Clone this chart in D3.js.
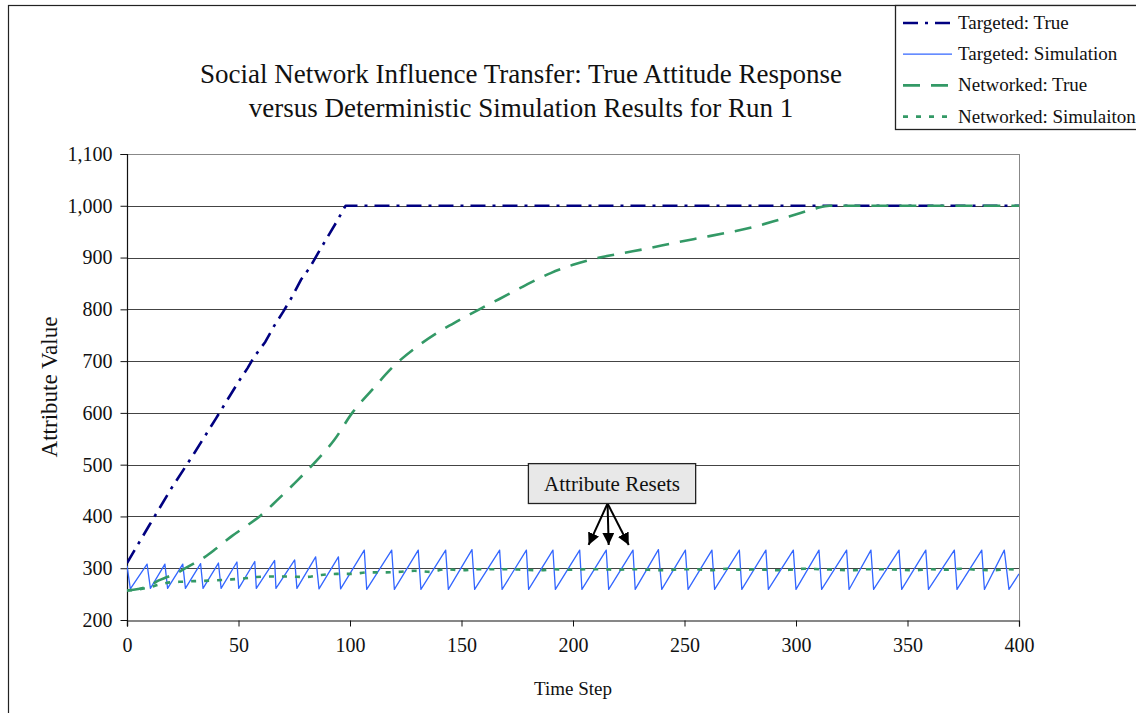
<!DOCTYPE html>
<html>
<head>
<meta charset="utf-8">
<script src="https://cdn.jsdelivr.net/npm/d3@7"></script>
<style>
  html, body { margin: 0; padding: 0; background: #fff; }
  svg { display: block; }
  text { font-family: "Liberation Serif", serif; }
</style>
</head>
<body>
<svg id="chart" width="1136" height="713" font-family="Liberation Serif, serif"></svg>
<script>
// ---------------- DATA ----------------
const titleLines = [
  "Social Network Influence Transfer: True Attitude Response",
  "versus Deterministic Simulation Results for Run 1"
];
const xLabel = "Time Step";
const yLabel = "Attribute Value";
const xTicks = [0, 50, 100, 150, 200, 250, 300, 350, 400];
const yTicks = [200, 300, 400, 500, 600, 700, 800, 900, 1000, 1100];
const seriesNames = ["Targeted: True", "Targeted: Simulation", "Networked: True", "Networked: Simulaiton"];
const annotationText = "Attribute Resets";
const annotationTargets = [207, 216, 225];

// Targeted: True  [time, value]
const targetedTrue = [
  [0,310],[10,383],[20,455],[30,521],[40,590],[50,660],[54,686],[57,708],[62,737],[66,768],
  [70,795],[74,824],[78,857],[82,881],[86,911],[90,940],[94,969],[98,1000],[400,1000]
];

// Targeted: Simulation (sawtooth vertices) [time, value]
const targetedSim = [
  [0,305],[1.5,260],[9,308],[10.5,261],[17,308],[18.2,261],[25,308],[26.2,261],
  [33,309],[34.1,261],[41,310],[42.2,261],[49.3,312],[50.1,261],[57.3,313],[58,261],
  [66.2,315],[66.8,261],[75.2,316],[76.2,261],[84.6,322],[86.1,260],[94.8,322],[95.8,260],
  [106.4,335],[107.5,259],[118.7,335],[119.9,259],[130.6,335],[131.8,259],[142.9,335],[144.1,259],
  [154.7,336],[155.9,259],[167.1,335],[168.2,259],[179.1,335],[180.1,259],[191,335],[192.1,259],
  [203,335],[204,259],[214.9,335],[216,259],[226.9,335],[227.9,259],[238.3,336],[239.8,259],
  [250.4,335],[251.6,259],[262.3,335],[263.5,259],[274.6,335],[275.7,259],[286.5,335],[287.6,259],
  [298.8,335],[300,259],[310.3,335],[311.5,259],[322.7,335],[323.8,259],[333.6,335],[334.8,259],
  [346.2,335],[347.4,259],[358.2,335],[359.4,259],[371,335],[372.2,259],[383.3,335],[384.5,259],
  [393.4,335],[395.5,259],[400,289]
];

// Networked: True  [time, value]
const networkedTrue = [
  [0,257],[5,260],[10,266],[14,276],[18,283],[22,290],[27,302],[31,312],[35,322],[40,338],
  [47,362],[53,380],[60,402],[67,430],[77,472],[85,508],[93,548],[101,600],[110,645],[120,692],
  [131,731],[140,757],[149,779],[158,800],[167,820],[178,845],[190,870],[200,886],[212,900],
  [223,909],[234,918],[245,928],[257,938],[268,947],[279,957],[290,970],[302,986],[309,995],[315,1000],
  [400,1000]
];

// Networked: Simulation [time, value]
const networkedSim = [
  [0,257],[5,259],[10,263],[15,269],[20,273],[25,274],[30,275],[37,276],[45,278],[52,280],
  [58,283],[65,284],[72,284],[80,283],[87,287],[94,289],[101,289],[108,292],[115,292],[122,293],
  [129,295],[136,293],[143,298],[150,296],[157,298],[164,298],[171,298],[178,297],[185,296],[192,298],
  [199,297],[206,298],[213,298],[220,297],[227,298],[234,297],[241,296],[248,298],[255,298],[262,296],
  [269,299],[276,297],[283,298],[290,296],[297,297],[304,299],[311,298],[318,297],[325,296],[332,298],
  [339,298],[346,297],[353,296],[360,298],[367,297],[374,299],[381,297],[388,296],[395,298],[400,297]
];

// ---------------- CHART ----------------
const FONT = "Liberation Serif, serif";
const svg = d3.select("#chart");
const plot = { left: 127, right: 1019, top: 154, bottom: 620 };

const x = d3.scaleLinear().domain([0, 400]).range([plot.left, plot.right]);
const y = d3.scaleLinear().domain([200, 1100]).range([plot.bottom, plot.top]);

// outer frame
svg.append("rect").attr("x", 8.5).attr("y", 5.5).attr("width", 1300).attr("height", 900)
  .attr("fill", "#fff").attr("stroke", "#222").attr("stroke-width", 1.2);

// title
svg.append("g").selectAll("text").data(titleLines).join("text")
  .attr("x", 521).attr("y", (d, i) => 83 + i * 34)
  .attr("text-anchor", "middle").attr("font-family", FONT).attr("font-size", 27).attr("fill", "#111")
  .text(d => d);

// gridlines
svg.append("g").selectAll("line").data(yTicks.filter(v => v > 200)).join("line")
  .attr("x1", plot.left).attr("x2", plot.right)
  .attr("y1", d => Math.round(y(d)) + 0.5).attr("y2", d => Math.round(y(d)) + 0.5)
  .attr("stroke", d => d === 1100 ? "#888" : "#444").attr("stroke-width", 1);

// right border of plot
svg.append("line").attr("x1", plot.right + 0.5).attr("x2", plot.right + 0.5)
  .attr("y1", plot.top).attr("y2", plot.bottom).attr("stroke", "#888");

// axes
const yAxis = d3.axisLeft(y).tickValues(yTicks).tickSize(7).tickPadding(8).tickFormat(d3.format(","));
const xAxis = d3.axisBottom(x).tickValues(xTicks).tickSize(6).tickPadding(11).tickFormat(d3.format("d"));

const gy = svg.append("g").attr("transform", `translate(${plot.left + 0.5},0)`).call(yAxis);
const gx = svg.append("g").attr("transform", `translate(0,${plot.bottom + 0.5})`).call(xAxis);
[gx, gy].forEach(g => {
  g.attr("font-family", FONT);
  g.select(".domain").attr("stroke", "#111").attr("stroke-width", 1.2);
  g.selectAll(".tick line").attr("stroke", "#111");
  g.selectAll(".tick text").attr("font-family", FONT).attr("font-size", 20).attr("fill", "#111");
});
gy.select(".domain").attr("d", `M-7,${plot.top + 0.5}H0V${plot.bottom + 6}`);

// axis labels
svg.append("text").attr("x", 573).attr("y", 695).attr("text-anchor", "middle")
  .attr("font-family", FONT).attr("font-size", 19).attr("fill", "#111").text(xLabel);
svg.append("text").attr("transform", `translate(57,${(plot.top + plot.bottom) / 2}) rotate(-90)`)
  .attr("text-anchor", "middle").attr("font-family", FONT).attr("font-size", 23).attr("fill", "#111").text(yLabel);

// lines
const line = d3.line().x(d => x(d[0])).y(d => y(d[1]));
const smooth = d3.line().curve(d3.curveMonotoneX).x(d => x(d[0])).y(d => y(d[1]));
const styles = [
  { data: targetedTrue, color: "#000080", width: 2.6, dash: "15,7,3,7", gen: line },
  { data: targetedSim, color: "#3366ff", width: 1.3, dash: null, gen: line },
  { data: networkedTrue, color: "#339966", width: 2.6, dash: "17,11", gen: smooth },
  { data: networkedSim, color: "#339966", width: 2.6, dash: "5,8", gen: smooth }
];
svg.append("clipPath").attr("id", "clip").append("rect")
  .attr("x", plot.left).attr("y", plot.top - 5).attr("width", plot.right - plot.left).attr("height", plot.bottom - plot.top + 5);
const gl = svg.append("g").attr("clip-path", "url(#clip)");
styles.forEach(s => {
  gl.append("path").datum(s.data).attr("d", s.gen)
    .attr("fill", "none").attr("stroke", s.color).attr("stroke-width", s.width)
    .attr("stroke-dasharray", s.dash).attr("stroke-linejoin", "round");
});

// annotation
svg.append("defs").append("marker").attr("id", "arrow").attr("viewBox", "0 0 10 10")
  .attr("refX", 10).attr("refY", 5).attr("markerWidth", 12).attr("markerHeight", 12)
  .attr("markerUnits", "userSpaceOnUse").attr("orient", "auto")
  .append("path").attr("d", "M0,0L10,5L0,10Z").attr("fill", "#000");

const boxCx = x(215.5), boxTop = y(502), boxBottom = y(425);
const arrowTipV = 345;
const ga = svg.append("g");
annotationTargets.forEach(t => {
  ga.append("line").attr("x1", boxCx).attr("y1", boxBottom)
    .attr("x2", x(t)).attr("y2", y(arrowTipV))
    .attr("stroke", "#000").attr("stroke-width", 2).attr("marker-end", "url(#arrow)");
});
ga.append("rect").attr("x", x(180)).attr("y", boxTop)
  .attr("width", x(255) - x(180)).attr("height", boxBottom - boxTop)
  .attr("fill", "#e8e8e8").attr("stroke", "#222").attr("stroke-width", 1.3);
ga.append("text").attr("x", (x(180) + x(255)) / 2).attr("y", (boxTop + boxBottom) / 2 + 7)
  .attr("text-anchor", "middle").attr("font-family", FONT).attr("font-size", 21).attr("fill", "#111").text(annotationText);

// legend
const lg = svg.append("g");
lg.append("rect").attr("x", 895.5).attr("y", 5.5).attr("width", 300).attr("height", 124)
  .attr("fill", "#fff").attr("stroke", "#222").attr("stroke-width", 1.3);
seriesNames.forEach((name, i) => {
  const yy = 23 + i * 31.2;
  const s = styles[i];
  lg.append("line").attr("x1", 903).attr("x2", 952).attr("y1", yy).attr("y2", yy)
    .attr("stroke", s.color).attr("stroke-width", s.width).attr("stroke-dasharray", s.dash);
  lg.append("text").attr("x", 958).attr("y", yy + 6).attr("font-family", FONT).attr("font-size", 19).attr("fill", "#111").text(name);
});
</script>
</body>
</html>
